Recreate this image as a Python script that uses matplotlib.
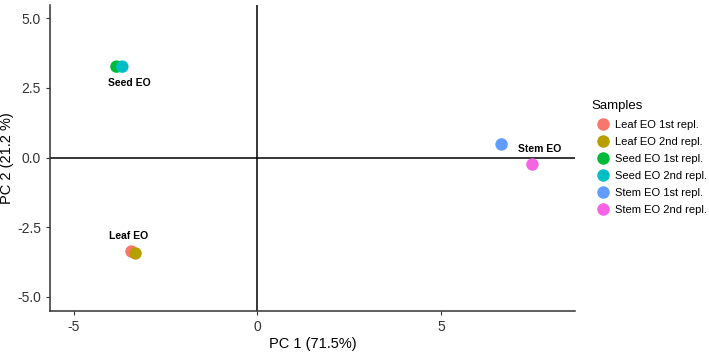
import matplotlib
matplotlib.use("Agg")
import matplotlib.pyplot as plt
from matplotlib.lines import Line2D

plt.rcParams['font.family'] = ['Liberation Sans', 'DejaVu Sans']

samples = ["Leaf EO 1st repl.", "Leaf EO 2nd repl.", "Seed EO 1st repl.",
           "Seed EO 2nd repl.", "Stem EO 1st repl.", "Stem EO 2nd repl."]
pc1 = [-3.43, -3.32, -3.84, -3.68, 6.65, 7.49]
pc2 = [-3.37, -3.44, 3.26, 3.26, 0.47, -0.25]
colors = ["#F8766D", "#B79F00", "#00BA38", "#00BFC4", "#619CFF", "#F564E3"]

group_labels = ["Seed EO", "Leaf EO", "Stem EO"]
label_x = [-3.5, -3.5, 7.68]
label_y = [2.68, -2.83, 0.29]

xticks = [-5, 0, 5]
yticks = [-5.0, -2.5, 0.0, 2.5, 5.0]

fig = plt.figure(figsize=(7.09, 3.59), dpi=100)
ax = fig.add_axes([0.0705, 0.134, 0.740, 0.852])

ax.axhline(0, color="black", lw=1.1, zorder=1)
ax.axvline(0, color="black", lw=1.1, zorder=1)

for x, y, c in zip(pc1, pc2, colors):
    ax.scatter(x, y, s=80, color=c, edgecolors="none", zorder=3)

for t, x, y in zip(group_labels, label_x, label_y):
    ax.text(x, y, t, ha="center", va="center", fontsize=7.5, fontweight="bold", zorder=4)

ax.set_xlim(-5.65, 8.64)
ax.set_ylim(-5.5, 5.47)
ax.set_xticks(xticks)
ax.set_xticklabels([str(v) for v in xticks])
ax.set_yticks(yticks)
ax.set_yticklabels([f"{v:.1f}" for v in yticks])
ax.tick_params(labelsize=10, colors="#333333", length=3, width=0.8)
ax.tick_params(axis="both", labelcolor="#333333")
for s in ["top", "right"]:
    ax.spines[s].set_visible(False)
for s in ["left", "bottom"]:
    ax.spines[s].set_color("#333333")
    ax.spines[s].set_linewidth(1.1)

ax.set_xlabel("PC 1 (71.5%)", fontsize=10.5, labelpad=2)
ax.set_ylabel("PC 2 (21.2 %)", fontsize=10.5, labelpad=2)

handles = [Line2D([0], [0], marker="o", linestyle="none", markersize=9,
                  markerfacecolor=c, markeredgecolor="none") for c in colors]
leg = fig.legend(handles, samples, title="Samples", loc="upper left",
                 bbox_to_anchor=(0.831, 0.728), frameon=False, fontsize=8,
                 title_fontsize=9.5, handletextpad=0.1, labelspacing=0.62,
                 borderaxespad=0, borderpad=0.2)
leg._legend_box.align = "left"
leg._legend_box.sep = 6

fig.savefig("out.png", dpi=100)
